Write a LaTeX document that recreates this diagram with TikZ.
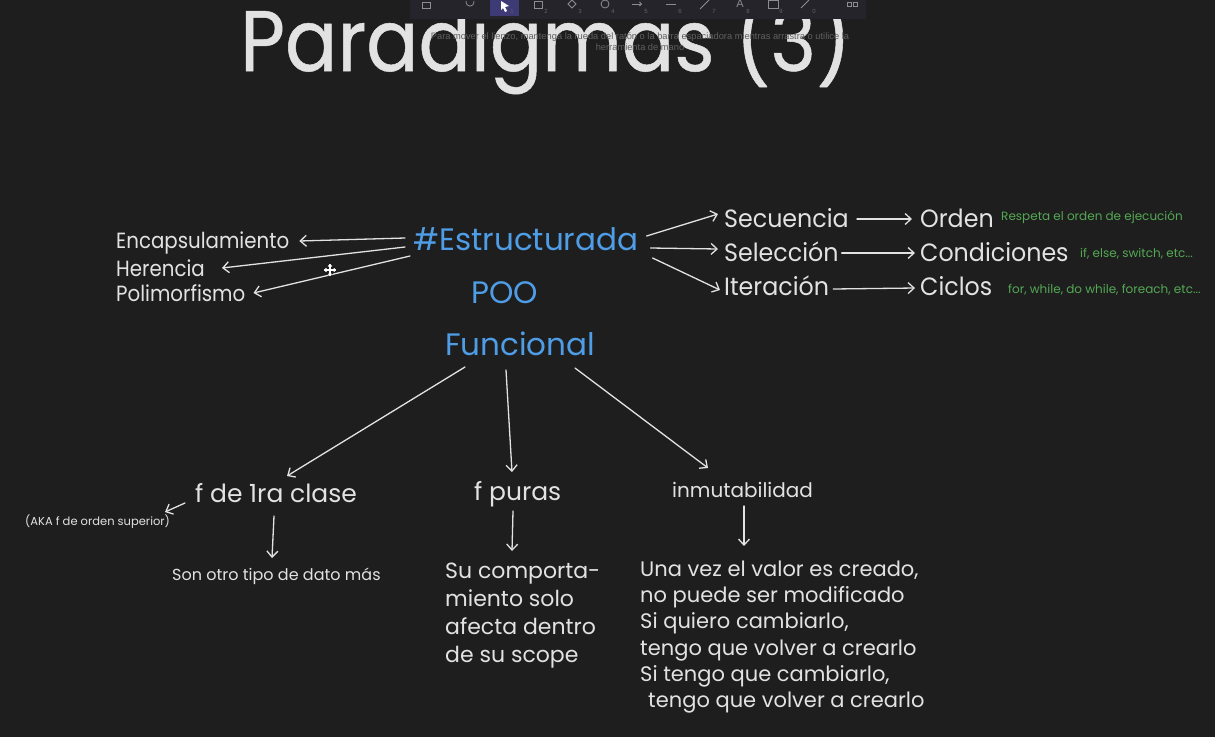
\documentclass[tikz,border=0pt]{standalone}
\usepackage{fontspec}
\setmainfont{Poppins}
\newfontfamily\titlefont[FakeStretch=0.9,FakeBold=0.6]{Poppins}
\newfontfamily\narrowfont[FakeStretch=0.9]{Poppins}
\newfontfamily\semifont[FakeStretch=0.95]{Poppins}
\newfontfamily\uifont{Liberation Sans}
\usetikzlibrary{arrows.meta,calc}
\definecolor{bg}{RGB}{30,30,30}
\definecolor{fg}{RGB}{226,226,226}
\definecolor{blu}{RGB}{78,157,230}
\definecolor{grn}{RGB}{84,168,84}
\definecolor{tbar}{RGB}{36,36,42}
\definecolor{tsel}{RGB}{62,58,118}
\definecolor{ticon}{RGB}{140,140,146}
\definecolor{hint}{RGB}{96,96,96}
\newcommand\fz[1]{\fontsize{#1}{#1}\selectfont}
\begin{document}
\begin{tikzpicture}[x=1pt,y=-1pt,
  lbl/.style={inner sep=0pt,anchor=base west,text=fg},
  blbl/.style={lbl,text=blu,font=\fz{31}},
  mid/.style={lbl,font=\fz{25}},
  rmid/.style={lbl,font=\semifont\fz{25}},
  side/.style={lbl,font=\narrowfont\fz{22}},
  body/.style={lbl,font=\fz{22}},
  note/.style={lbl,text=grn,font=\fz{12}},
  arr/.style={draw=fg,line width=1.3pt,line cap=round,-{Straight Barb[length=6pt,width=11pt,line width=1.3pt]}},
  icon/.style={draw=ticon,line width=0.8pt},
  inum/.style={inner sep=0pt,text=ticon!70!black,font=\uifont\fontsize{6}{6}\selectfont}
]
\useasboundingbox[fill=bg] (0,0) rectangle (1215,737);

% title
\node[lbl,font=\titlefont\fz{86}] (title) at (240,71) {Paradigmas (3)};

% toolbar
\fill[tbar] (410,0) rectangle (866,19);
\fill[tsel] (490,0) rectangle (519,16);
\draw[icon] (422,2) rectangle (430,8);
\draw[icon] (466,1) .. controls (466,8) and (474,8) .. (474,1);
\fill[white] (501,1) -- (509,6) -- (505,7) -- (507,11) -- (505,12) -- (503,8) -- (501,10) -- cycle;
\draw[icon] (534,1) rectangle (542,8);
\draw[icon] (572,0) -- (576,4) -- (572,8) -- (568,4) -- cycle;
\draw[icon] (605,4) circle (4);
\draw[icon,-{Straight Barb[length=2pt,width=4pt]}] (632,4) -- (642,4);
\draw[icon] (666,4) -- (676,4);
\draw[icon] (700,9) -- (709,0);
\node[inner sep=0pt,text=ticon,font=\uifont\fontsize{11}{11}\selectfont] (tA) at (740,4) {A};
\draw[icon] (768,0) rectangle (778,8);
\draw[icon] (801,8) -- (809,0);
\draw[icon] (847,2) rectangle (851,6);
\draw[icon] (853,2) rectangle (857,6);
\foreach \i/\xx in {1/512,2/546,3/580,4/613,5/646,6/680,7/714,8/748,9/781,0/814}
  \node[inum] (n\i) at (\xx,11) {\i};

% hint text
\node[inner sep=0pt,text=hint,font=\uifont\fontsize{9.3}{11}\selectfont,align=center] (hint) at (640,42)
  {Para mover el lienzo, mantenga la rueda del ratón o la barra espaciadora mientras arrastra o utilice la\\herramienta de mano};

% central nodes
\node[blbl] (est) at (413,250) {\#Estructurada};
\node[blbl] (poo) at (471,303) {POO};
\node[blbl] (fun) at (445,355) {Funcional};

% left of Estructurada
\node[side] (enc) at (116,248) {Encapsulamiento};
\node[side] (her) at (116,276) {Herencia};
\node[side] (pol) at (116,301) {Polimorfismo};

% right of Estructurada
\node[rmid] (sec) at (724,227) {Secuencia};
\node[rmid] (sel) at (724,261) {Selección};
\node[rmid] (ite) at (724,295) {Iteración};
\node[rmid] (ord) at (920,227) {Orden};
\node[rmid] (con) at (920,261) {Condiciones};
\node[rmid] (cic) at (920,295) {Ciclos};
\node[note] (nord) at (1001,220) {Respeta el orden de ejecución};
\node[note] (ncon) at (1080,257) {if, else, switch, etc...};
\node[note] (ncic) at (1008,293) {for, while, do while, foreach, etc...};

% functional branch
\node[mid] (f1) at (195,502) {f de 1ra clase};
\node[lbl,font=\fz{11.5}] (aka) at (25,525) {(AKA f de orden superior)};
\node[lbl,font=\fz{16}] (son) at (172,580) {Son otro tipo de dato más};
\node[mid] (fp) at (474,500) {f puras};
\node[lbl,font=\fz{20}] (inm) at (672,497) {inmutabilidad};

\node[body] (su1) at (445,578) {Su comporta-};
\node[body] (su2) at (445,606) {miento solo};
\node[body] (su3) at (445,634) {afecta dentro};
\node[body] (su4) at (445,662) {de su scope};

\node[lbl,font=\fz{21}] (un1) at (640,576) {Una vez el valor es creado,};
\node[lbl,font=\fz{21}] (un2) at (640,602) {no puede ser modificado};
\node[lbl,font=\fz{21}] (un3) at (640,628) {Si quiero cambiarlo,};
\node[lbl,font=\fz{21}] (un4) at (640,655) {tengo que volver a crearlo};
\node[lbl,font=\fz{21}] (un5) at (640,681) {Si tengo que cambiarlo,};
\node[lbl,font=\fz{21}] (un6) at (648,707) {tengo que volver a crearlo};

% connectors
\draw[arr] ($(est.base west)+(-8,-12)$) -- ($(enc.base east)+(10,-7)$);
\draw[arr] ($(est.base west)+(-8,-3)$) -- ($(her.base east)+(17,-8)$);
\draw[arr] ($(est.base west)+(-3,6)$) -- ($(pol.base east)+(8,-8)$);
\draw[arr] ($(est.base east)+(8,-14)$) -- ($(sec.base west)+(-6,-13)$);
\draw[arr] ($(est.base east)+(12,-2)$) -- ($(sel.base west)+(-6,-12)$);
\draw[arr] ($(est.base east)+(14,8)$) -- ($(ite.base west)+(-4,-5)$);
\draw[arr] ($(sec.base east)+(8,-8)$) -- ($(ord.base west)+(-8,-8)$);
\draw[arr] ($(sel.base east)+(3,-8)$) -- ($(con.base west)+(-5,-8)$);
\draw[arr] ($(ite.base east)+(4,-6)$) -- ($(cic.base west)+(-5,-7)$);
\draw[arr] ($(fun.base west)+(20,12)$) -- ($(f1.base west)+(92,-26)$);
\draw[arr] ($(fun.base west)+(61,15)$) -- ($(fp.base west)+(38,-28)$);
\draw[arr] ($(fun.base west)+(130,13)$) -- ($(inm.base west)+(36,-29)$);
\draw[arr] ($(f1.base west)+(-10,1)$) -- ($(aka.base west)+(140,-13)$);
\draw[arr] ($(f1.base west)+(79,14)$) -- ($(son.base west)+(100,-22)$);
\draw[arr] ($(fp.base west)+(39,11)$) -- ($(su1.base west)+(67,-27)$);
\draw[arr] ($(inm.base west)+(72,9)$) -- ($(un1.base west)+(104,-30)$);

% move cursor
\coordinate (cur) at (330,270);
\foreach \dx/\dy in {1/0,-1/0,0/1,0/-1}
  \draw[black,line width=2.6pt,-{Triangle[length=4pt,width=6pt]}] (cur) -- ++(7*\dx,7*\dy);
\foreach \dx/\dy in {1/0,-1/0,0/1,0/-1}
  \draw[white,line width=1.2pt,-{Triangle[length=3pt,width=4.5pt]}] (cur) -- ++(6.5*\dx,6.5*\dy);
\end{tikzpicture}
\end{document}
